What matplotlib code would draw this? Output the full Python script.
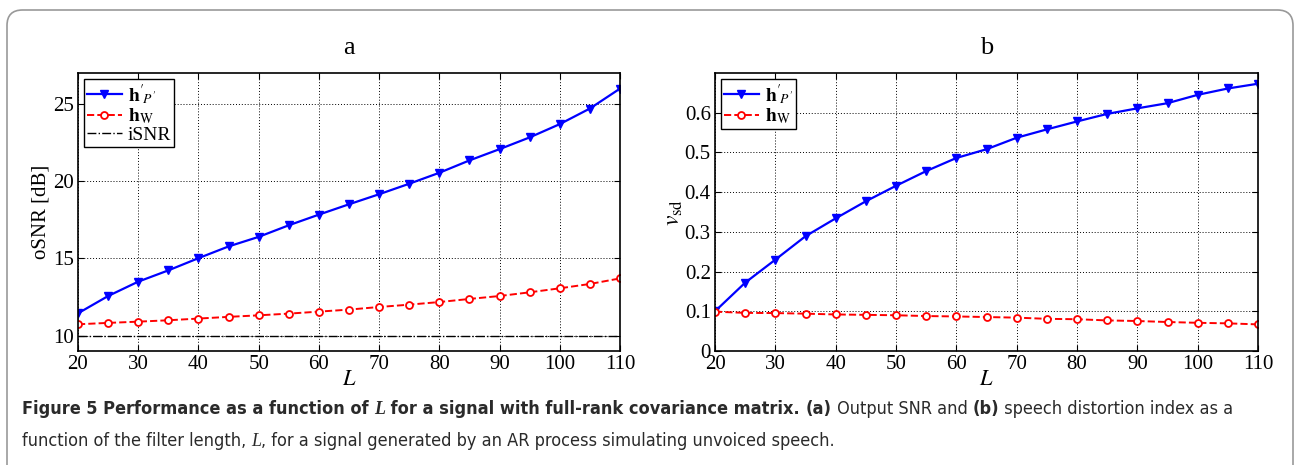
import matplotlib
matplotlib.use("Agg")
import matplotlib.pyplot as plt
from matplotlib.patches import FancyBboxPatch

plt.rcParams['font.family'] = ['Liberation Serif', 'DejaVu Serif']
plt.rcParams['mathtext.fontset'] = 'stix'

# data
L = [20, 25, 30, 35, 40, 45, 50, 55, 60, 65, 70, 75, 80, 85, 90, 95, 100, 105, 110]
osnr_hp = [11.44, 12.56, 13.49, 14.22, 15.01, 15.77, 16.39, 17.14, 17.83, 18.50,
           19.15, 19.83, 20.54, 21.34, 22.07, 22.83, 23.69, 24.70, 25.99]
osnr_hw = [10.73, 10.82, 10.90, 10.99, 11.10, 11.21, 11.31, 11.42, 11.55, 11.68,
           11.85, 12.00, 12.17, 12.37, 12.56, 12.80, 13.06, 13.34, 13.70]
isnr = 10
vsd_hp = [0.100, 0.172, 0.230, 0.289, 0.334, 0.377, 0.416, 0.453, 0.486, 0.508,
          0.537, 0.558, 0.578, 0.597, 0.611, 0.624, 0.645, 0.661, 0.673]
vsd_hw = [0.099, 0.096, 0.0955, 0.094, 0.092, 0.091, 0.090, 0.088, 0.087, 0.0855,
          0.084, 0.081, 0.080, 0.077, 0.0755, 0.073, 0.071, 0.0696, 0.067]
xticks = [20, 30, 40, 50, 60, 70, 80, 90, 100, 110]

W, H = 1294, 465
fig = plt.figure(figsize=(W / 100, H / 100), dpi=100)

# rounded frame round the figure
frame = FancyBboxPatch((7 / W, -0.1), (1293 - 7) / W, 1.1 - 10 / H,
                       boxstyle="round,pad=0,rounding_size=0.012",
                       transform=fig.transFigure, fill=False,
                       edgecolor='#999999', linewidth=1.2, mutation_aspect=W / H)
fig.patches.append(frame)

ax1 = fig.add_axes([78 / W, 1 - 351 / H, 542 / W, 278 / H])
ax2 = fig.add_axes([715 / W, 1 - 351 / H, 543 / W, 278 / H])

lbl_hp = r"$\mathbf{h}'_{\!P'}$"
lbl_hw = r"$\mathbf{h}_{\mathrm{W}}$"

ax1.plot(L, osnr_hp, '-v', color='blue', linewidth=1.6, markersize=6, label=lbl_hp)
ax1.plot(L, osnr_hw, '--o', color='red', linewidth=1.4, markersize=5,
         markerfacecolor='white', markeredgewidth=1.3, label=lbl_hw)
ax1.axhline(isnr, color='black', linestyle='-.', linewidth=1.0, label='iSNR')
ax1.set_ylim(9, 27)
ax1.set_yticks([10, 15, 20, 25])
ax1.set_ylabel('oSNR [dB]', fontsize=15, labelpad=2)
ax1.set_title('a', fontsize=19, pad=14)

ax2.plot(L, vsd_hp, '-v', color='blue', linewidth=1.6, markersize=6, label=lbl_hp)
ax2.plot(L, vsd_hw, '--o', color='red', linewidth=1.4, markersize=5,
         markerfacecolor='white', markeredgewidth=1.3, label=lbl_hw)
ax2.set_ylim(0, 0.7)
ax2.set_yticks([0, 0.1, 0.2, 0.3, 0.4, 0.5, 0.6])
ax2.set_yticklabels(['0', '0.1', '0.2', '0.3', '0.4', '0.5', '0.6'])
ax2.set_ylabel(r'$v_{\mathrm{sd}}$', fontsize=17, labelpad=0)
ax2.set_title('b', fontsize=19, pad=14)

for ax in (ax1, ax2):
    ax.set_xlim(20, 110)
    ax.set_xticks(xticks)
    ax.set_xlabel('$L$', fontsize=16, labelpad=-2)
    ax.grid(True, linestyle=(0, (1, 2)), color='black', linewidth=0.7)
    ax.tick_params(direction='in', labelsize=15, length=4, top=True, right=True, pad=3)
    for s in ax.spines.values():
        s.set_linewidth(1.2)
    leg = ax.legend(loc='upper left', fontsize=14, handlelength=1.8, handletextpad=0.3,
                    borderpad=0.15, labelspacing=0.0, borderaxespad=0.3, fancybox=False,
                    framealpha=1, edgecolor='black')
    leg.get_frame().set_linewidth(1.0)

# caption, drawn piece by piece
sans = ['DejaVu Sans']
pieces1 = [("Figure 5 Performance as a function of ", 'bold', 'normal', sans),
           ("L", 'bold', 'italic', ['Liberation Serif']),
           (" for a signal with full-rank covariance matrix. ", 'bold', 'normal', sans),
           ("(a)", 'bold', 'normal', sans),
           (" Output SNR and ", 'normal', 'normal', sans),
           ("(b)", 'bold', 'normal', sans),
           (" speech distortion index as a", 'normal', 'normal', sans)]
pieces2 = [("function of the filter length, ", 'normal', 'normal', sans),
           ("L", 'normal', 'italic', ['Liberation Serif']),
           (", for a signal generated by an AR process simulating unvoiced speech.",
            'normal', 'normal', sans)]

renderer = fig.canvas.get_renderer()


def draw_line(pieces, y_px, size):
    x = 22
    made = []
    for txt, weight, style, fam in pieces:
        t = fig.text(x / W, 1 - y_px / H, txt, fontsize=size, fontweight=weight,
                     fontstyle=style, family=fam, stretch='condensed',
                     color='#2a2a2a', va='baseline')
        bb = t.get_window_extent(renderer=renderer)
        x += bb.width
        made.append(t)
    return x - 22, made


# fit the first caption line to the width it has in the figure
width, made = draw_line(pieces1, 414, 12.5)
for t in made:
    t.remove()
capsize = 12.5 * 1210 / width
draw_line(pieces1, 414, capsize)
draw_line(pieces2, 446, capsize)

fig.savefig('out.png', dpi=100)
